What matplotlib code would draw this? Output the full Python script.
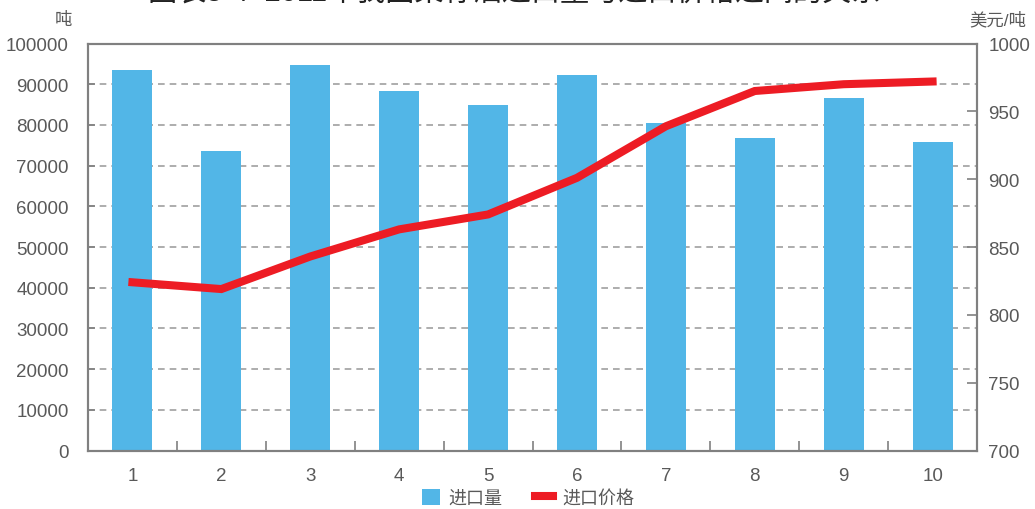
import numpy as np
import matplotlib.pyplot as plt
from matplotlib.lines import Line2D
from matplotlib.patches import Patch

plt.rcParams['font.family'] = ['Liberation Sans', 'Noto Sans CJK SC', 'DejaVu Sans']

# data
months = [1, 2, 3, 4, 5, 6, 7, 8, 9, 10]
volume = [93500, 73600, 94700, 88300, 84900, 92200, 80500, 76800, 86500, 75700]   # 吨
price = [824, 819, 843, 863, 874, 901, 939, 965, 970, 972]                          # 美元/吨

bar_color = '#52B6E7'
line_color = '#ED1C24'
grey = '#808080'
text_color = '#595959'

fig = plt.figure(figsize=(10.35, 5.10), dpi=100)
ax = fig.add_axes([0.085, 0.1147, 0.859, 0.798])

x = np.arange(len(months))
ax.bar(x, volume, width=0.45, color=bar_color, zorder=2)
ax.set_xlim(-0.5, len(months) - 0.5)
ax.set_ylim(0, 100000)
ax.set_yticks(np.arange(0, 100001, 10000))
ax.set_xticks(x)
ax.set_xticklabels([str(m) for m in months])
ax.set_xticks(x[:-1] + 0.5, minor=True)
ax.set_axisbelow(True)
ax.yaxis.grid(True, linestyle=(0, (4, 3)), color='#a0a0a0', linewidth=1.2)

ax.tick_params(axis='x', which='major', length=0, pad=12, labelsize=13.5, labelcolor=text_color)
ax.tick_params(axis='x', which='minor', direction='in', length=7, width=1.2, color=grey)
ax.tick_params(axis='y', direction='in', length=5, width=1.2, color=grey, pad=14,
               labelsize=13.5, labelcolor=text_color)

ax2 = ax.twinx()
ax2.plot(x, price, color=line_color, linewidth=5.8, solid_joinstyle='miter', zorder=3)
ax2.set_ylim(700, 1000)
ax2.set_yticks(np.arange(700, 1001, 50))
ax2.tick_params(axis='y', direction='in', length=7, width=1.2, color=grey, pad=8,
                labelsize=13.5, labelcolor=text_color)

for a in (ax, ax2):
    for s in a.spines.values():
        s.set_color(grey)
        s.set_linewidth(1.5)

fig.text(0.0615, 0.96, '吨', fontsize=12.5, color=text_color, ha='center', va='center')
fig.text(0.964, 0.96, '美元/吨', fontsize=12.5, color=text_color, ha='center', va='center')

# title is cut off by the top edge in the original
fig.text(0.497, 0.985, '图表5-4  2011年我国菜籽油进口量与进口价格之间的关系',
         fontsize=21, color='#222222', ha='center', va='bottom')

handles = [Patch(facecolor=bar_color, edgecolor='none'),
           Line2D([0], [0], color=line_color, linewidth=5.8)]
fig.legend(handles, ['进口量', '进口价格'], loc='center', bbox_to_anchor=(0.51, 0.022),
           ncol=2, frameon=False, fontsize=13, labelcolor=text_color, borderpad=0,
           handlelength=1.0, handleheight=1.0, columnspacing=1.8, handletextpad=0.5)

fig.savefig('out.png', dpi=100)
